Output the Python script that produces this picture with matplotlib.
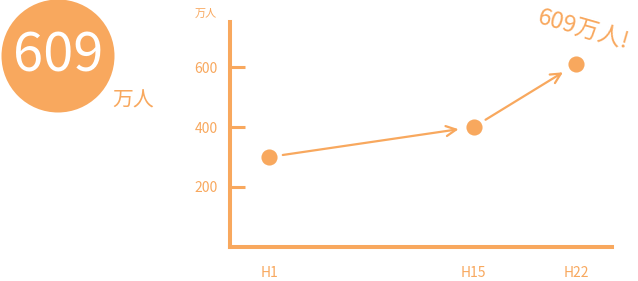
import matplotlib.pyplot as plt
from matplotlib.patches import Ellipse

plt.rcParams['font.family'] = ['Noto Sans CJK JP', 'DejaVu Sans']

# data
years = [1, 15, 22]
labels = ['H1', 'H15', 'H22']
values = [300, 400, 609]
yticks = [200, 400, 600]
unit = '万人'

orange = '#F8A85E'

fig = plt.figure(figsize=(6.38, 2.81), dpi=100)
ax = fig.add_axes([0.3605, 0.121, 0.5987, 0.8007])

ax.scatter(years, values, s=135, color=orange, zorder=3, linewidths=0)
# arrows between points
for i in range(len(years) - 1):
    ax.annotate('', xy=(years[i + 1], values[i + 1]), xytext=(years[i], values[i]),
                arrowprops=dict(arrowstyle='->', color=orange, lw=1.6,
                                shrinkA=10, shrinkB=11, mutation_scale=18))

ax.set_xlim(-1.67, 24.46)
ax.set_ylim(0, 750)
ax.set_xticks(years)
ax.set_xticklabels(labels)
ax.set_yticks(yticks)

for s in ['top', 'right']:
    ax.spines[s].set_visible(False)
for s in ['left', 'bottom']:
    ax.spines[s].set_color(orange)
    ax.spines[s].set_linewidth(2.9)
ax.tick_params(axis='y', direction='in', length=11, width=2.2, color=orange,
               labelcolor=orange, labelsize=10, pad=9)
ax.tick_params(axis='x', length=0, labelcolor=orange, labelsize=10, pad=14)
for t in ax.get_yticklabels() + ax.get_xticklabels():
    t.set_style('italic')

ax.text(-0.035, 1.035, unit, transform=ax.transAxes, ha='right', va='center',
        color=orange, fontsize=8)
ax.annotate(f'{values[-1]}{unit}!', xy=(years[-1], values[-1]), xytext=(5, 25),
            textcoords='offset points', ha='center', va='center', rotation=-16,
            color=orange, fontsize=17)

# big circle
fig.add_artist(Ellipse((58 / 638, 1 - 56 / 281), 113 / 638, 113 / 281,
                       transform=fig.transFigure, color=orange, lw=0))
fig.text(58 / 638, 1 - 56 / 281, str(values[-1]), ha='center', va='center',
         color='white', fontsize=39, style='italic')
fig.text(133 / 638, 1 - 101 / 281, unit, ha='center', va='center',
         color=orange, fontsize=15)

fig.savefig('out.png', dpi=100)
